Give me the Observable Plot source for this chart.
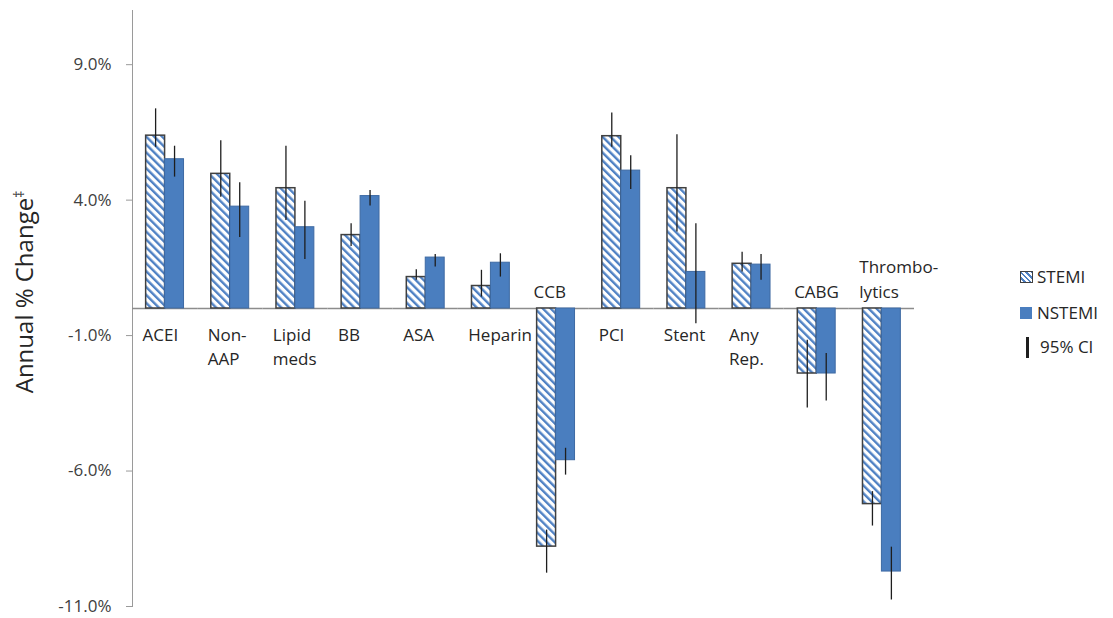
<!DOCTYPE html>
<html>
<head>
<meta charset="utf-8">
<script src="https://cdn.jsdelivr.net/npm/d3@7"></script>
<script src="https://cdn.jsdelivr.net/npm/@observablehq/plot@0.6"></script>
<style>
  html, body { margin: 0; padding: 0; background: #fff; }
  #wrap { position: relative; width: 1113px; height: 618px; font-family: "Open Sans", sans-serif; }
  g[aria-label="y-axis tick label"] { fill: #404040; }
  .leg { position: absolute; font-size: 17px; color: #262626; line-height: 20px; white-space: nowrap; }
  .sw { position: absolute; }
  .ylab { position: absolute; left: 24px; top: 292px; transform: translate(-50%, -50%) rotate(-90deg);
          font-size: 24px; color: #262626; white-space: nowrap; line-height: 28px; }
  .ylab sup { font-size: 14px; vertical-align: 9px; line-height: 0; }
</style>
</head>
<body>
<div id="wrap"></div>
<script>
// ---- data ----
const categories = ["ACEI","NonAAP","Lipid","BB","ASA","Heparin","CCB","PCI","Stent","AnyRep","CABG","Thrombo"];
const catLabels  = ["ACEI","Non-\nAAP","Lipid\nmeds","BB","ASA","Heparin","CCB","PCI","Stent","Any\nRep.","CABG","Thrombo-\nlytics"];
const series = ["STEMI","NSTEMI"];
const stemi    = [6.38, 4.97, 4.44, 2.71, 1.16, 0.83, -8.79, 6.36, 4.44, 1.65, -2.40, -7.22];
const stemiLo  = [5.95, 4.11, 3.25, 2.29, 1.04, 0.42, -9.77, 5.95, 2.82, 1.35, -3.67, -8.03];
const stemiHi  = [7.37, 6.19, 5.99, 3.13, 1.43, 1.41, -8.18, 7.22, 6.41, 2.08, -1.17, -6.76];
const nstemi   = [5.51, 3.76, 3.00, 4.15, 1.88, 1.69, -5.60, 5.09, 1.35, 1.62, -2.40, -9.71];
const nstemiLo = [4.85, 2.62, 1.81, 3.78, 1.53, 1.16, -6.15, 4.39, -0.56, 1.04, -3.41, -10.76];
const nstemiHi = [5.99, 4.64, 3.96, 4.36, 1.99, 2.02, -5.16, 5.64, 3.13, 1.99, -1.66, -8.81];
const yTicks = [9, 4, -1, -6, -11];
const yTitle = "Annual % Change";
const yTitleMark = "‡";

// ---- tables ----
const rows = [];
categories.forEach((c, i) => {
  rows.push({cat: c, series: "STEMI", value: stemi[i], lo: stemiLo[i], hi: stemiHi[i]});
  rows.push({cat: c, series: "NSTEMI", value: nstemi[i], lo: nstemiLo[i], hi: nstemiHi[i]});
});
const labelRows = categories.map((c, i) => ({cat: c, label: catLabels[i], neg: stemi[i] < 0}));

const blue = "#4a7ebf";

const chart = Plot.plot({
  width: 1113,
  height: 618,
  marginLeft: 132,
  marginRight: 199,
  marginTop: 10,
  marginBottom: 12,
  style: {fontFamily: "Open Sans, sans-serif", fontSize: "17px", color: "#9a9a9a", background: "#fff"},
  fx: {domain: categories, padding: 0, round: false, axis: null},
  x: {domain: series, paddingInner: 0, paddingOuter: 0.72, round: false, axis: null},
  y: {
    domain: [-11, 11],
    ticks: yTicks,
    tickFormat: d => d.toFixed(1) + "%",
    tickSize: 6,
    tickPadding: 15,
    line: true,
    label: null
  },
  marks: [
    Plot.ruleY([0], {stroke: "#8c8c8c", strokeWidth: 1.4}),
    Plot.barY(rows.filter(d => d.series === "STEMI"), {
      fx: "cat", x: "series", y: "value",
      fill: "url(#hatch)", stroke: "#404040", strokeWidth: 1.5
    }),
    Plot.barY(rows.filter(d => d.series === "NSTEMI"), {
      fx: "cat", x: "series", y: "value",
      fill: blue, stroke: "#3e6aa3", strokeWidth: 1
    }),
    Plot.ruleX(rows, {fx: "cat", x: "series", y1: "lo", y2: "hi", stroke: "#1e1e1e", strokeWidth: 1.3}),
    Plot.text(labelRows.filter(d => !d.neg), {
      fx: "cat", y: () => 0, text: "label", frameAnchor: "left", dx: 10, dy: 15,
      textAnchor: "start", lineAnchor: "top", lineHeight: 1.44,
      fill: "#262626", fontSize: 17
    }),
    Plot.text(labelRows.filter(d => d.neg), {
      fx: "cat", y: () => 0, text: "label", frameAnchor: "left", dx: 10, dy: -11,
      textAnchor: "start", lineAnchor: "bottom", lineHeight: 1.44,
      fill: "#262626", fontSize: 17
    })
  ]
});

// hatch pattern
const defs = d3.select(chart).insert("defs", ":first-child");
const pat = defs.append("pattern")
  .attr("id", "hatch")
  .attr("patternUnits", "userSpaceOnUse")
  .attr("width", 5.6).attr("height", 5.6)
  .attr("patternTransform", "rotate(-45)");
pat.append("rect").attr("width", 5.6).attr("height", 5.6).attr("fill", "#fff");
pat.append("rect").attr("width", 2.4).attr("height", 5.6).attr("fill", "#4f81c4");

const wrap = document.getElementById("wrap");
wrap.appendChild(chart);

// y-axis title
const yl = document.createElement("div");
yl.className = "ylab";
yl.innerHTML = yTitle + "<sup>" + yTitleMark + "</sup>";
wrap.appendChild(yl);

// legend (HTML, positioned over right margin)
const legend = [
  {key: "STEMI", top: 267, sw: `<span class="sw" style="left:-17px;top:4px;width:11px;height:10px;border:1.5px solid #404040;background:repeating-linear-gradient(45deg,#fff 0 1.8px,#4f81c4 1.8px 3.6px,#fff 3.6px 4px);"></span>`},
  {key: "NSTEMI", top: 303, sw: `<span class="sw" style="left:-17px;top:4px;width:12px;height:12px;background:${blue};"></span>`},
  {key: "95% CI", top: 337, sw: `<span class="sw" style="left:-14px;top:0px;width:2.5px;height:21px;background:#1e1e1e;"></span>`}
];
legend.forEach(l => {
  const div = document.createElement("div");
  div.className = "leg";
  div.style.left = (l.key === "95% CI" ? 1040 : 1037) + "px";
  div.style.top = l.top + "px";
  div.innerHTML = l.sw + l.key;
  wrap.appendChild(div);
});
</script>
</body>
</html>
